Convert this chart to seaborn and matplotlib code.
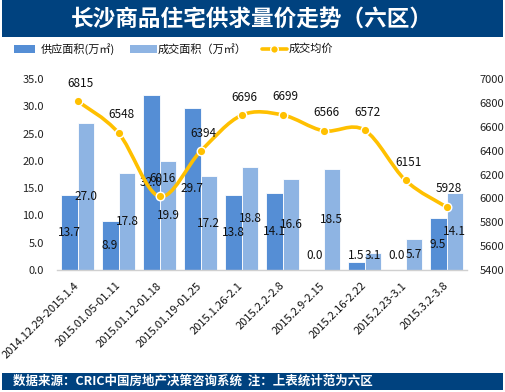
import matplotlib
matplotlib.use("Agg")
import matplotlib.pyplot as plt
import seaborn as sns
import pandas as pd
import numpy as np
from matplotlib.path import Path
from matplotlib.patches import PathPatch, Rectangle
from matplotlib.lines import Line2D

# ---------------- data ----------------
categories = ["2014.12.29-2015.1.4", "2015.01.05-01.11", "2015.01.12-01.18",
              "2015.01.19-01.25", "2015.1.26-2.1", "2015.2.2-2.8", "2015.2.9-2.15",
              "2015.2.16-2.22", "2015.2.23-3.1", "2015.3.2-3.8"]
supply = [13.7, 8.9, 32.0, 29.7, 13.8, 14.1, 0.0, 1.5, 0.0, 9.5]
deal = [27.0, 17.8, 19.9, 17.2, 18.8, 16.6, 18.5, 3.1, 5.7, 14.1]
price = [6815, 6548, 6016, 6394, 6696, 6699, 6566, 6572, 6151, 5928]
left_ticks = [0, 5, 10, 15, 20, 25, 30, 35]
right_ticks = [5400, 5600, 5800, 6000, 6200, 6400, 6600, 6800, 7000]

title = "长沙商品住宅供求量价走势（六区）"
leg_supply = "供应面积(万㎡)"
leg_deal = "成交面积（万㎡）"
leg_price = "成交均价"
footer = "数据来源：CRIC中国房地产决策咨询系统  注：上表统计范为六区"

C_SUP = "#558ED5"
C_DEAL = "#8EB4E3"
C_LINE = "#FFC000"
C_NAVY = "#00427F"

sns.set_theme(style="white")
plt.rcParams['font.family'] = ['Noto Sans CJK SC', 'DejaVu Sans']

W, H = 506, 392
fig = plt.figure(figsize=(W / 100, H / 100), dpi=100)

def fx(px):
    return px / W

def fy(py):
    return 1 - py / H

ax = fig.add_axes([fx(57), fy(270), fx(467) - fx(57), fy(79) - fy(270)])

df = pd.DataFrame({
    "cat": categories * 2,
    "value": supply + deal,
    "series": ["supply"] * len(categories) + ["deal"] * len(categories),
})
sns.barplot(data=df, x="cat", y="value", hue="series", order=categories,
            hue_order=["supply", "deal"], palette=[C_SUP, C_DEAL], saturation=1,
            width=0.82, edgecolor="white", linewidth=0.6, ax=ax, legend=False,
            errorbar=None, zorder=2)
ax.set_xlim(-0.5, len(categories) - 0.5)
ax.set_ylim(0, 35)
ax.set_yticks(left_ticks)
ax.set_yticklabels([f"{v:.1f}" for v in left_ticks], fontsize=8, color="#222222")
ax.set_xlabel("")
ax.set_ylabel("")
ax.set_xticks(range(len(categories)))
ax.set_xticklabels(categories, rotation=45, ha="right", va="center",
                   rotation_mode="anchor", fontsize=8, color="#111111")
ax.tick_params(axis="x", length=0, pad=10)
ax.tick_params(axis="y", length=0, pad=9.5)
for s in ["top", "left", "right"]:
    ax.spines[s].set_visible(False)
ax.spines["bottom"].set_color("#D0D0D0")
ax.spines["bottom"].set_linewidth(1.0)
ax.patch.set_alpha(0)

# bar labels (centered, clamped for tiny bars)
for cont in ax.containers:
    for p in cont.patches:
        h = p.get_height()
        xc = p.get_x() + p.get_width() / 2
        ax.text(xc, max(h / 2, 2.7), f"{h:.1f}", ha="center", va="center",
                fontsize=8.5, color="#111111", zorder=6)

# right axis with smooth price line
ax2 = ax.twinx()
ax2.set_ylim(5400, 7000)
ax2.set_yticks(right_ticks)
ax2.set_yticklabels([str(v) for v in right_ticks], fontsize=8, color="#222222")
ax2.tick_params(axis="y", length=0, pad=9)
for s in ["top", "left", "right", "bottom"]:
    ax2.spines[s].set_visible(False)

xs = np.arange(len(price), dtype=float)
ys = np.array(price, dtype=float)
n = len(xs)
verts = [(xs[0], ys[0])]
codes = [Path.MOVETO]
for i in range(n - 1):
    p0 = (xs[i - 1], ys[i - 1]) if i > 0 else (xs[i], ys[i])
    p1 = (xs[i], ys[i])
    p2 = (xs[i + 1], ys[i + 1])
    p3 = (xs[i + 2], ys[i + 2]) if i + 2 < n else p2
    c1 = (p1[0] + (p2[0] - p0[0]) / 6, p1[1] + (p2[1] - p0[1]) / 6)
    c2 = (p2[0] - (p3[0] - p1[0]) / 6, p2[1] - (p3[1] - p1[1]) / 6)
    verts += [c1, c2, p2]
    codes += [Path.CURVE4] * 3
ax2.add_patch(PathPatch(Path(verts, codes), facecolor="none", edgecolor=C_LINE,
                        lw=2.6, capstyle="round", joinstyle="round", zorder=4))
sns.scatterplot(x=xs, y=ys, ax=ax2, s=38, color=C_LINE, edgecolor="white",
                linewidth=1.0, zorder=5, legend=False)
for xv, yv in zip(xs, ys):
    ax2.annotate(f"{int(yv)}", (xv, yv), xytext=(2, 13), textcoords="offset points",
                 ha="center", va="center", fontsize=8.5, color="#111111", zorder=6)

# title bar
fig.patches.append(Rectangle((fx(2), fy(37)), fx(503) - fx(2), fy(0) - fy(37),
                             transform=fig.transFigure, facecolor=C_NAVY,
                             edgecolor="none", zorder=0))
fig.text(0.497, fy(19.5), title, ha="center", va="center", color="white",
         fontsize=16.3, fontweight="bold")

# footer bar
fig.patches.append(Rectangle((fx(2), fy(390)), fx(503) - fx(2), fy(373) - fy(390),
                             transform=fig.transFigure, facecolor=C_NAVY,
                             edgecolor="none", zorder=0))
fig.text(fx(13), fy(381.5), footer, ha="left", va="center", color="white",
         fontsize=9, fontweight="bold")

# legend (manual)
ly = 49
fig.patches.append(Rectangle((fx(14), fy(ly + 3.5)), fx(21), 7 / H,
                             transform=fig.transFigure, facecolor=C_SUP, edgecolor="none"))
fig.text(fx(41), fy(ly), leg_supply, ha="left", va="center", fontsize=8, color="#111111")
fig.patches.append(Rectangle((fx(130), fy(ly + 3.5)), fx(27), 7 / H,
                             transform=fig.transFigure, facecolor=C_DEAL, edgecolor="none"))
fig.text(fx(158), fy(ly), leg_deal, ha="left", va="center", fontsize=8, color="#111111")
fig.lines.append(Line2D([fx(262), fx(287)], [fy(ly), fy(ly)], transform=fig.transFigure,
                        color=C_LINE, lw=2.6))
fig.lines.append(Line2D([fx(274.5)], [fy(ly)], transform=fig.transFigure, marker="o",
                        markersize=5.5, markerfacecolor=C_LINE, markeredgecolor="white",
                        markeredgewidth=1.0, linestyle="none"))
fig.text(fx(289), fy(ly), leg_price, ha="left", va="center", fontsize=8, color="#111111")

fig.savefig("out.png", dpi=100)
